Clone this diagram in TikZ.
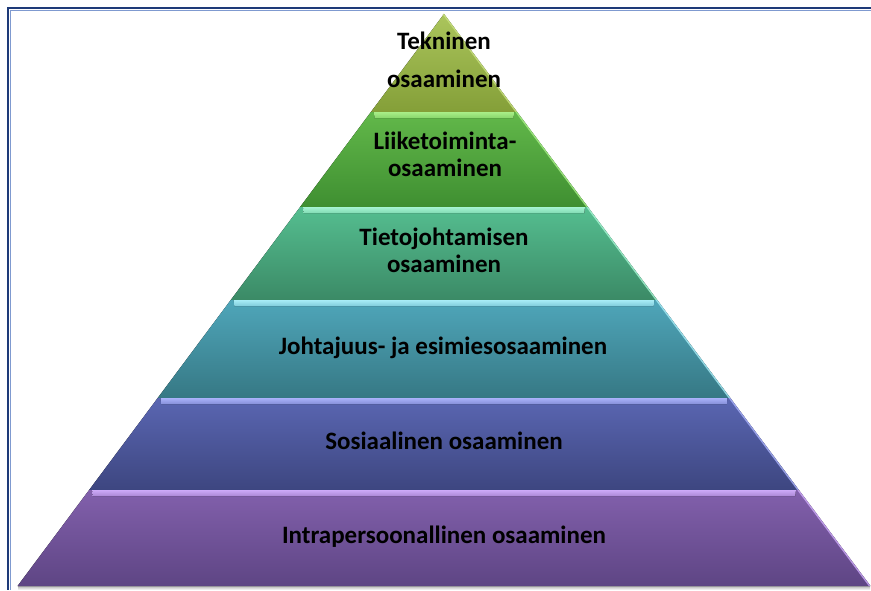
\documentclass[tikz,border=0pt]{standalone}
\usepackage{fontspec}
\setmainfont{Carlito}
\definecolor{frameDark}{HTML}{1E3A78}
\definecolor{frameLight}{HTML}{7F9AD0}
\definecolor{aT}{HTML}{ABC55C}\definecolor{aB}{HTML}{849F38}\definecolor{aH}{HTML}{C8E080}
\definecolor{bT}{HTML}{62B84A}\definecolor{bB}{HTML}{3F8F31}\definecolor{bH}{HTML}{A8EE88}
\definecolor{cT}{HTML}{55BE90}\definecolor{cB}{HTML}{3B8A66}\definecolor{cH}{HTML}{A6F4D2}
\definecolor{dT}{HTML}{4FA6BA}\definecolor{dB}{HTML}{367884}\definecolor{dH}{HTML}{A8ECF6}
\definecolor{eT}{HTML}{5A66B2}\definecolor{eB}{HTML}{3D4680}\definecolor{eH}{HTML}{AAB2FA}
\definecolor{fT}{HTML}{8260AC}\definecolor{fB}{HTML}{5E4584}\definecolor{fH}{HTML}{CDAAF8}
\tikzset{
  lbl/.style={anchor=base, inner sep=0pt, text=black, font=\fontsize{25}{30}\selectfont\bfseries},
}
\begin{document}
\begin{tikzpicture}[x=1pt,y=-1pt]
\useasboundingbox (0,0) rectangle (871,590);
\fill[white] (0,0) rectangle (871,590);
% shadow under pyramid
\fill[top color=black!35, bottom color=white] (18,585) rectangle (870,590);
% layers
\foreach \yt/\yb/\ct/\cb/\ch [count=\i] in {14/112/aT/aB/aH, 112/207/bT/bB/bH, 207/300/cT/cB/cH, 300/398/dT/dB/dH, 398/490/eT/eB/eH, 490/586/fT/fB/fH}{
  \pgfmathsetmacro\lt{444-0.7455*(\yt-14)}
  \pgfmathsetmacro\rt{444+0.7455*(\yt-14)}
  \pgfmathsetmacro\lb{444-0.7455*(\yb-14)}
  \pgfmathsetmacro\rb{444+0.7455*(\yb-14)}
  \fill[top color=\ct, bottom color=\cb] (\lt,\yt) -- (\rt,\yt) -- (\rb,\yb) -- (\lb,\yb) -- cycle;
  \draw[\ch, line width=1.4, opacity=0.8] (\rt-0.8,\yt) -- (\rb-0.8,\yb);
  \ifnum\i>1
    \pgfmathsetmacro\lh{444-0.7455*(\yt+6-14)}
    \pgfmathsetmacro\rh{444+0.7455*(\yt+6-14)}
    \fill[top color=\ch, bottom color=\ch!55!\ct] (\lt+3,\yt) -- (\rt-3,\yt) -- (\rh-8,\yt+6) -- (\lh+8,\yt+6) -- cycle;
  \fi
}
% frame
\draw[frameDark, line width=2.4] (871,8) -- (8,8) -- (8,590);
\draw[frameLight, line width=0.9] (871,10) -- (10,10) -- (10,590);
% labels
\node[lbl] (t1a) at (444,49) {Tekninen};
\node[lbl] (t1b) at (444,87) {osaaminen};
\node[lbl] (t2a) at (445,149) {Liiketoiminta-};
\node[lbl] (t2b) at (445,176) {osaaminen};
\node[lbl] (t3a) at (444,245) {Tietojohtamisen};
\node[lbl] (t3b) at (444,272) {osaaminen};
\node[lbl] (t4) at (443,354) {Johtajuus- ja esimiesosaaminen};
\node[lbl] (t5) at (444,449) {Sosiaalinen osaaminen};
\node[lbl] (t6) at (444,543) {Intrapersoonallinen osaaminen};
\end{tikzpicture}
\end{document}
